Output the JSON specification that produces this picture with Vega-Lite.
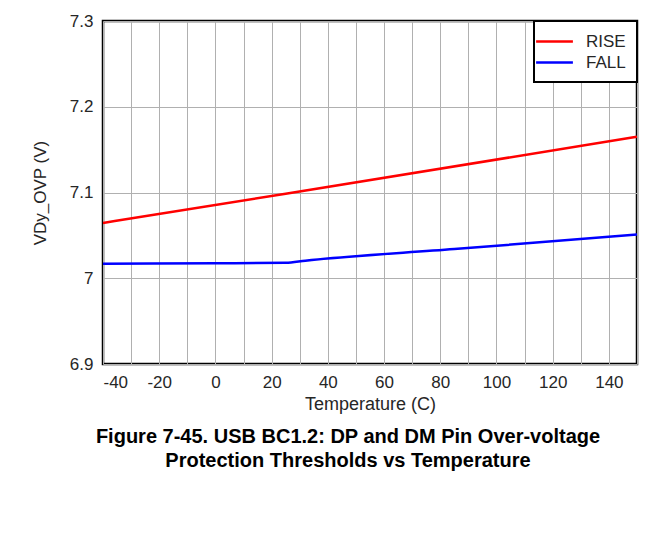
{
  "$schema": "https://vega.github.io/schema/vega-lite/v6.json",
  "width": 534,
  "height": 343,
  "autosize": {"type": "none"},
  "padding": {"left": 103, "top": 21, "right": 25, "bottom": 186},
  "background": "white",
  "config": {
    "font": "Liberation Sans",
    "view": {"stroke": "black", "strokeWidth": 2.5},
    "axis": {
      "grid": true,
      "gridColor": "#b0b0b0",
      "gridWidth": 1,
      "gridOpacity": 1,
      "ticks": false,
      "domain": false,
      "labelFont": "Liberation Sans",
      "labelFontSize": 17,
      "labelColor": "#262626",
      "titleFont": "Liberation Sans",
      "titleFontSize": 18,
      "titleFontWeight": "normal",
      "titleColor": "#262626"
    },
    "legend": {"strokeWidth": 2}
  },
  "title": {
    "text": ["Figure 7-45. USB BC1.2: DP and DM Pin Over-voltage", "Protection Thresholds vs Temperature"],
    "orient": "bottom",
    "anchor": "middle",
    "dx": -22,
    "offset": 14,
    "font": "Liberation Sans",
    "fontSize": 20,
    "fontWeight": "bold",
    "color": "black",
    "lineHeight": 24
  },
  "data": {
    "values": [
      {"temp": -40, "v": 7.0645, "series": "RISE"},
      {"temp": 25, "v": 7.0985, "series": "RISE"},
      {"temp": 150, "v": 7.165, "series": "RISE"},
      {"temp": -40, "v": 7.017, "series": "FALL"},
      {"temp": 0, "v": 7.0175, "series": "FALL"},
      {"temp": 25, "v": 7.018, "series": "FALL"},
      {"temp": 32, "v": 7.0205, "series": "FALL"},
      {"temp": 85, "v": 7.034, "series": "FALL"},
      {"temp": 150, "v": 7.051, "series": "FALL"}
    ]
  },
  "mark": {"type": "line", "strokeWidth": 2.5, "interpolate": "monotone"},
  "encoding": {
    "x": {
      "field": "temp",
      "type": "quantitative",
      "scale": {"domain": [-40, 150], "nice": false, "zero": false},
      "axis": {
        "values": [-40, -30, -20, -10, 0, 10, 20, 30, 40, 50, 60, 70, 80, 90, 100, 110, 120, 130, 140, 150],
        "labelExpr": "(datum.value % 20 === 0 && datum.value < 150) ? ('' + datum.value) : ''",
        "labelPadding": 10,
        "title": "Temperature (C)",
        "titlePadding": 5
      }
    },
    "y": {
      "field": "v",
      "type": "quantitative",
      "scale": {"domain": [6.9, 7.3], "nice": false, "zero": false},
      "axis": {
        "values": [6.9, 7.0, 7.1, 7.2, 7.3],
        "format": ".1~f",
        "labelPadding": 10,
        "title": "VDy_OVP (V)",
        "titleFontSize": 17,
        "titlePadding": 20
      }
    },
    "color": {
      "field": "series",
      "type": "nominal",
      "scale": {"domain": ["RISE", "FALL"], "range": ["#ff0000", "#0000ff"]},
      "legend": {
        "title": null,
        "orient": "top-right",
        "offset": 0,
        "strokeColor": "black",
        "fillColor": "white",
        "padding": 11,
        "symbolType": "M-2.3,0H2.3",
        "symbolSize": 256,
        "symbolStrokeWidth": 2.5,
        "labelFontSize": 17,
        "labelColor": "#262626",
        "labelOffset": 22,
        "labelLimit": 200,
        "rowPadding": 3
      }
    }
  }
}
